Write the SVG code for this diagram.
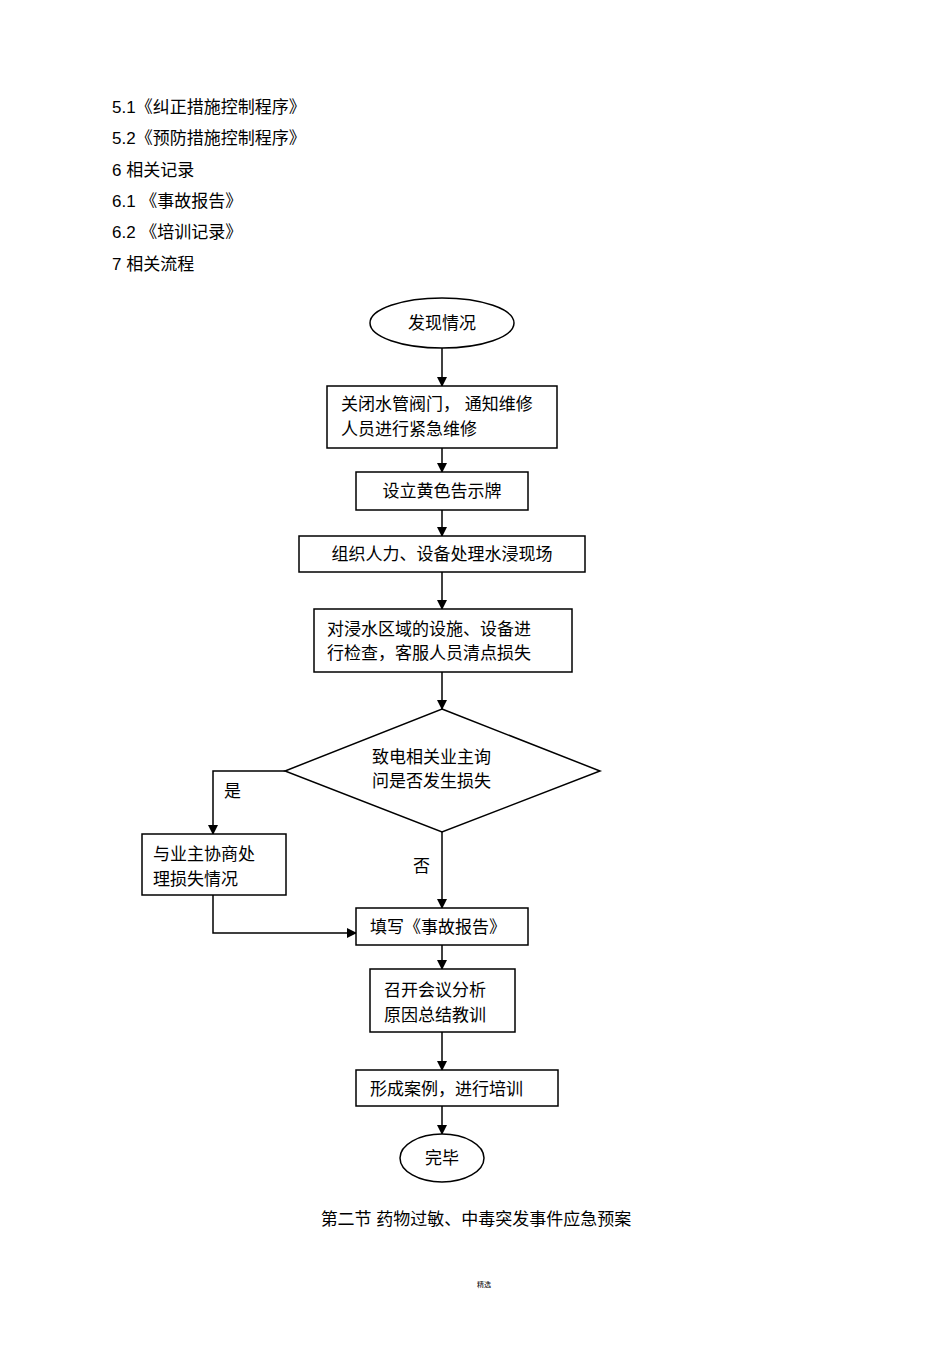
<svg xmlns="http://www.w3.org/2000/svg" width="950" height="1345" viewBox="0 0 950 1345">
<style>
text{font-family:"Liberation Sans","Noto Sans CJK SC",sans-serif;font-size:17px;fill:#000}
.s{fill:#fff;stroke:#000;stroke-width:1.5}
.c{fill:none;stroke:#000;stroke-width:1.5;marker-end:url(#a)}
</style>
<defs><marker id="a" markerWidth="10" markerHeight="10" refX="9" refY="5" orient="auto" markerUnits="userSpaceOnUse"><path d="M0,0 L10,5 L0,10 Z" fill="#000"/></marker></defs>
<rect width="950" height="1345" fill="#fff"/>
<g id="header">
<text x="112" y="113">5.1《纠正措施控制程序》</text>
<text x="112" y="144">5.2《预防措施控制程序》</text>
<text x="112" y="176">6  相关记录</text>
<text x="112" y="207">6.1  《事故报告》</text>
<text x="112" y="238">6.2  《培训记录》</text>
<text x="112" y="270">7  相关流程</text>
</g>
<g id="connectors">
<path class="c" d="M442,348 V386"/>
<path class="c" d="M442,448 V472"/>
<path class="c" d="M442,510 V536"/>
<path class="c" d="M442,572 V609"/>
<path class="c" d="M442,672 V709"/>
<path class="c" d="M285,771 H213 V834"/>
<path class="c" d="M442,832 V908"/>
<path class="c" d="M213,895 V933 H356"/>
<path class="c" d="M442,945 V969"/>
<path class="c" d="M442,1032 V1070"/>
<path class="c" d="M442,1106 V1134"/>
<text x="224" y="797">是</text>
<text x="413" y="872">否</text>
</g>
<g id="n1"><ellipse class="s" cx="442" cy="323" rx="72" ry="25"/><text x="442" y="329" text-anchor="middle">发现情况</text></g>
<g id="n2"><rect class="s" x="327" y="386" width="230" height="62"/><text x="341" y="410">关闭水管阀门， 通知维修</text><text x="341" y="435">人员进行紧急维修</text></g>
<g id="n3"><rect class="s" x="356" y="472" width="172" height="38"/><text x="442" y="497" text-anchor="middle">设立黄色告示牌</text></g>
<g id="n4"><rect class="s" x="299" y="536" width="286" height="36"/><text x="442" y="560" text-anchor="middle">组织人力、设备处理水浸现场</text></g>
<g id="n5"><rect class="s" x="314" y="609" width="258" height="63"/><text x="327" y="635">对浸水区域的设施、设备进</text><text x="327" y="659">行检查，客服人员清点损失</text></g>
<g id="n6"><polygon class="s" points="442,709 600,771 442,832 285,771"/><text x="372" y="763">致电相关业主询</text><text x="372" y="787">问是否发生损失</text></g>
<g id="n7"><rect class="s" x="142" y="834" width="144" height="61"/><text x="153" y="860">与业主协商处</text><text x="153" y="885">理损失情况</text></g>
<g id="n8"><rect class="s" x="356" y="908" width="172" height="37"/><text x="370" y="933">填写《事故报告》</text></g>
<g id="n9"><rect class="s" x="370" y="969" width="145" height="63"/><text x="384" y="996">召开会议分析</text><text x="384" y="1021">原因总结教训</text></g>
<g id="n10"><rect class="s" x="356" y="1070" width="202" height="36"/><text x="370" y="1095">形成案例，进行培训</text></g>
<g id="n11"><ellipse class="s" cx="442" cy="1158" rx="42" ry="24"/><text x="442" y="1164" text-anchor="middle">完毕</text></g>
<text x="476" y="1225" text-anchor="middle">第二节   药物过敏、中毒突发事件应急预案</text>
<text x="484" y="1287" text-anchor="middle" style="font-size:7px">精选</text>
</svg>
